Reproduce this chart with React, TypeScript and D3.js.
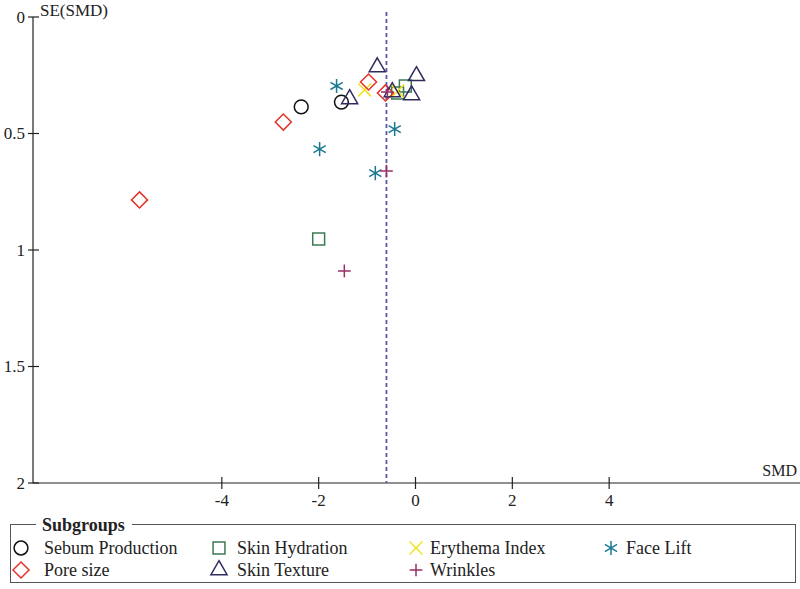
import React from "react";
import * as d3 from "d3";

// subgroup values: [SMD, SE(SMD)]
const sebumProduction = [[-2.36, 0.386], [-1.53, 0.365]];
const poreSize = [[-5.7, 0.785], [-2.73, 0.451], [-0.97, 0.279], [-0.62, 0.326]];
const skinHydration = [[-2.0, 0.953], [-0.21, 0.296], [-0.37, 0.326]];
const skinTexture = [[-0.79, 0.215], [0.02, 0.253], [-0.08, 0.335], [-0.48, 0.322], [-1.36, 0.352]];
const erythemaIndex = [[-1.05, 0.313], [-0.37, 0.318]];
const faceLift = [[-1.63, 0.296], [-1.98, 0.567], [-0.83, 0.67], [-0.43, 0.481]];
const wrinkles = [[-0.6, 0.661], [-1.47, 1.09], [-0.58, 0.322]];

const pooledSMD = -0.6;
const xTicks = [-4, -2, 0, 2, 4];
const yTicks = [0, 0.5, 1, 1.5, 2];
const yTickLabels = ["0", "0.5", "1", "1.5", "2"];

const groups = [
  { name: "Sebum Production", data: sebumProduction, symbol: d3.symbolCircle, size: 150, color: "#111111", col: 0, row: 0 },
  { name: "Skin Hydration", data: skinHydration, symbol: d3.symbolSquare2, size: 180, color: "#3b7a52", col: 1, row: 0 },
  { name: "Erythema Index", data: erythemaIndex, symbol: d3.symbolTimes, size: 110, color: "#f2e21c", col: 2, row: 0 },
  { name: "Face Lift", data: faceLift, symbol: d3.symbolAsterisk, size: 140, color: "#1b7892", col: 3, row: 0 },
  { name: "Pore size", data: poreSize, symbol: d3.symbolDiamond2, size: 165, color: "#e5322b", col: 0, row: 1 },
  { name: "Skin Texture", data: skinTexture, symbol: d3.symbolTriangle2, size: 185, color: "#2e2b5e", col: 1, row: 1 },
  { name: "Wrinkles", data: wrinkles, symbol: d3.symbolPlus, size: 55, color: "#9a2d66", col: 2, row: 1 },
];

const W = 800;
const H = 589;
const font = "'Liberation Serif', 'DejaVu Serif', serif";

export default function App() {
  const x = d3.scaleLinear().domain([-7.9, 7.9]).range([33, 798]);
  const y = d3.scaleLinear().domain([0, 2]).range([17, 483]);
  const sym = (type: any, size: number) => d3.symbol().type(type).size(size)() as string;

  const legendCols = [21, 219, 416, 611];
  const legendTextX = [44, 237, 430, 626];
  const legendRows = [548, 570];

  return (
    <svg width={W} height={H} style={{ position: "absolute", left: 0, top: 0, background: "#fff" }} fontFamily={font}>
      {/* axes */}
      <line x1={33} x2={33} y1={y(0)} y2={y(2)} stroke="#222" strokeWidth={1.2} />
      <line x1={33} x2={800} y1={y(2)} y2={y(2)} stroke="#222" strokeWidth={1.2} />
      {yTicks.map((t, i) => (
        <g key={"y" + t}>
          <line x1={28} x2={39} y1={y(t)} y2={y(t)} stroke="#222" strokeWidth={1.2} />
          <text x={25} y={y(t) + 5.5} textAnchor="end" fontSize={17} fill="#222">{yTickLabels[i]}</text>
        </g>
      ))}
      {xTicks.map((t) => (
        <g key={"x" + t}>
          <line x1={x(t)} x2={x(t)} y1={y(2) - 6} y2={y(2) + 6} stroke="#222" strokeWidth={1.2} />
          <text x={x(t)} y={y(2) + 23} textAnchor="middle" fontSize={17} fill="#222">{t}</text>
        </g>
      ))}
      <text x={40} y={16} fontSize={17} fill="#222">SE(SMD)</text>
      <text x={797} y={476} textAnchor="end" fontSize={16} fill="#222">SMD</text>

      {/* pooled estimate */}
      <line x1={x(pooledSMD)} x2={x(pooledSMD)} y1={12} y2={y(2)} stroke="#5a58a6" strokeWidth={1.8} strokeDasharray="4,3" />

      {/* points */}
      {groups.map((g) =>
        g.data.map((d, i) => (
          <path
            key={g.name + i}
            d={sym(g.symbol, g.size)}
            transform={`translate(${x(d[0])},${y(d[1])})`}
            fill="none"
            stroke={g.color}
            strokeWidth={1.5}
          />
        ))
      )}

      {/* legend */}
      <rect x={10.5} y={524.5} width={785} height={58} fill="none" stroke="#555" strokeWidth={1} />
      <rect x={36} y={514} width={96} height={20} fill="#fff" />
      <text x={42} y={531} fontSize={18} fontWeight="bold" fill="#222">Subgroups</text>
      {groups.map((g) => (
        <g key={"leg" + g.name}>
          <path
            d={sym(g.symbol, g.size)}
            transform={`translate(${legendCols[g.col]},${legendRows[g.row]})`}
            fill="none"
            stroke={g.color}
            strokeWidth={1.5}
          />
          <text x={legendTextX[g.col]} y={legendRows[g.row] + 6} fontSize={18} fill="#222">{g.name}</text>
        </g>
      ))}
    </svg>
  );
}
